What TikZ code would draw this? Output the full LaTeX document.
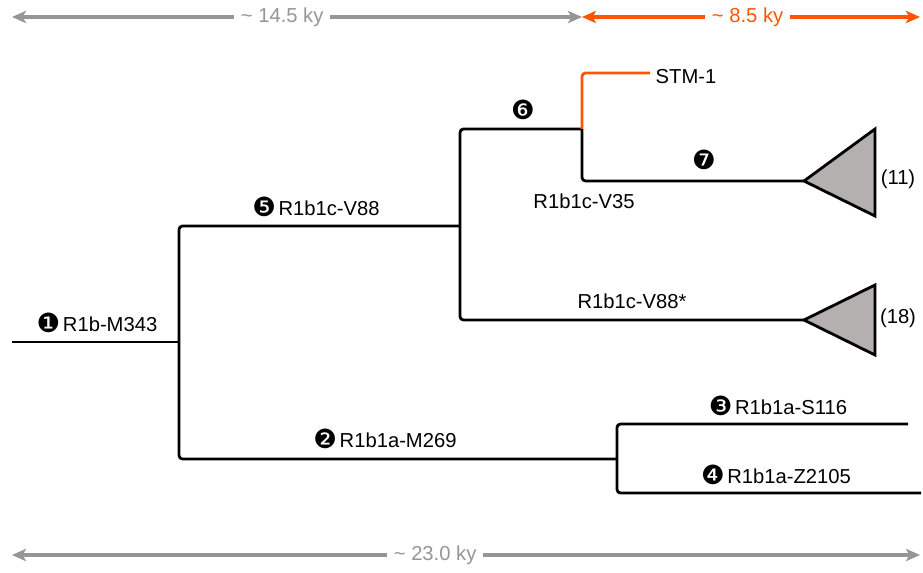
\documentclass[tikz,border=0pt]{standalone}
\usepackage{fontspec}
\setmainfont{Liberation Sans}
\newfontfamily\dingfont{DejaVu Sans}
\usetikzlibrary{arrows.meta}
\definecolor{kyorange}{RGB}{255,85,0}
\definecolor{kygray}{RGB}{150,150,150}
\definecolor{cladegray}{RGB}{180,176,176}
\newcommand{\mk}[1]{\raisebox{-0.1ex}{\dingfont\fontsize{15}{15}\selectfont#1}}
\begin{document}
\begin{tikzpicture}[x=0.02cm,y=-0.02cm,
	branch/.style={line width=1.6pt,rounded corners=2pt},
	lbl/.style={font=\fontsize{11.5}{13}\selectfont,inner sep=1pt},
	span/.style={line width=1.9pt,{Stealth[length=8pt,width=7pt,inset=2pt]}-{Stealth[length=8pt,width=7pt,inset=2pt]}},
	spanlbl/.style={fill=white,font=\fontsize{11.5}{13}\selectfont,inner xsep=4pt},
	clade/.style={line width=1.6pt,fill=cladegray,line join=miter}]
	\useasboundingbox (0,0) rectangle (923,573);
	% junctions and tips
	\coordinate (root) at (12,342);
	\coordinate (n1) at (179,342);
	\coordinate (n5) at (460,226);
	\coordinate (n6) at (582,129);
	\coordinate (n2) at (617,459);
	\coordinate (stm) at (650,73);
	\coordinate (t7) at (804,181);
	\coordinate (t88) at (804,320);
	\coordinate (t3) at (908,424);
	\coordinate (t4) at (921,493);
	% tree
	\draw[branch] (root)--(n1);
	\draw[branch] (n5) -| (n1) |- (n2);
	\draw[branch] (n6) -| (n5) |- (t88);
	\draw[branch] (n6) |- (t7);
	\draw[branch,kyorange] (n6) |- (stm);
	\draw[branch] (t3) -| (n2) |- (t4);
	\draw[clade] (t7)--++(71,-52)--++(0,87)--cycle;
	\draw[clade] (t88)--++(71,-35)--++(0,70)--cycle;
	% labels
	\node[lbl] (l1) at (97,323) {\mk{❶}\kern1.5pt R1b-M343};
	\node[lbl] (l5) at (316,207) {\mk{❺}\kern1.5pt R1b1c-V88};
	\node[lbl] (l6) at (523,110) {\mk{❻}};
	\node[lbl] (lstm) at (686,77) {STM-1};
	\node[lbl] (l7) at (704,160) {\mk{❼}};
	\node[lbl] (lv35) at (584,201) {R1b1c-V35};
	\node[lbl] (lv88s) at (632,301) {R1b1c-V88*};
	\node[lbl] (c11) at (898,179) {(11)};
	\node[lbl] (c18) at (898,318) {(18)};
	\node[lbl] (l2) at (385,439) {\mk{❷}\kern1.5pt R1b1a-M269};
	\node[lbl] (l3) at (778,406) {\mk{❸}\kern1.5pt R1b1a-S116};
	\node[lbl] (l4) at (776,475) {\mk{❹}\kern1.5pt R1b1a-Z2105};
	% time spans
	\coordinate (a0) at (12,17);
	\coordinate (a1) at (582,17);
	\coordinate (a2) at (920,17);
	\coordinate (b0) at (12,555);
	\coordinate (b1) at (920,555);
	\draw[span,kygray] (a0)--node[spanlbl,pos=0.474]{\textasciitilde\ 14.5 ky}(a1);
	\draw[span,kyorange] (a1)--node[spanlbl,pos=0.49]{\textasciitilde\ 8.5 ky}(a2);
	\draw[span,kygray] (b0)--node[spanlbl,pos=0.466]{\textasciitilde\ 23.0 ky}(b1);
\end{tikzpicture}
\end{document}
